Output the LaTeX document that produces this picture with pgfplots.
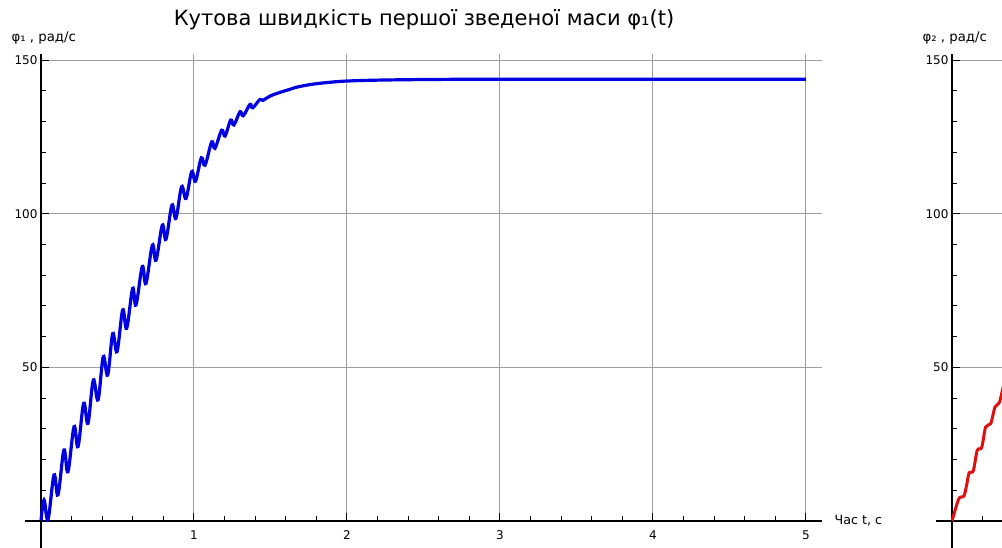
\documentclass[border=0pt]{standalone}
\usepackage{fontspec}
\setmainfont{DejaVu Sans}
\usepackage{pgfplots}
\usepackage{pgfplotstable}
\pgfplotsset{compat=1.18}

\definecolor{sageblue}{RGB}{0,0,225}
\definecolor{sagered}{RGB}{222,16,16}

\pgfplotsset{sagestyle/.style={
  scale only axis, width=781pt, height=467pt,
  xmin=0, xmax=5.105, ymin=0, ymax=152,
  axis lines*=left,
  axis line style={black, line width=1.1pt},
  xtick={1,2,3,4,5}, ytick={50,100,150},
  minor xtick={0.2,0.4,...,5.0}, minor ytick={10,20,...,150},
  tick align=inside,
  major tick length=8pt, minor tick length=5pt,
  every tick/.style={black, line width=1pt},
  grid=major,
  major grid style={black!38, line width=1pt},
  tick label style={font=\fontsize{12}{14}\selectfont},
  /pgf/number format/assume math mode=true,
  xticklabel style={yshift=-6pt},
  clip=false,
}}

\pgfplotstableread{
t w
0.000 0.0
0.020 6.8
0.046 0.5
0.085 15.0
0.111 8.5
0.150 23.1
0.176 16.0
0.216 30.7
0.242 24.2
0.279 38.3
0.307 31.8
0.342 45.9
0.373 39.4
0.407 53.5
0.436 47.5
0.469 61.0
0.497 55.1
0.534 68.7
0.560 62.7
0.599 75.7
0.621 70.3
0.662 82.8
0.686 77.3
0.728 89.8
0.752 84.9
0.793 96.3
0.817 91.7
0.856 102.8
0.882 98.5
0.919 108.8
0.948 105.0
0.985 113.7
1.010 110.6
1.048 118.2
1.072 115.8
1.116 123.4
1.137 121.3
1.181 127.2
1.203 125.3
1.240 130.5
1.261 128.9
1.301 133.2
1.322 131.9
1.366 135.6
1.384 134.5
1.431 137.2
1.450 136.9
1.497 138.3
1.562 139.5
1.627 140.5
1.680 141.3
1.780 142.2
1.890 142.8
2.000 143.2
2.210 143.5
2.540 143.7
3.000 143.8
4.000 143.8
5.000 143.8
}\wone

\pgfplotstableread{
t w
0.000 0.0
0.040 6.7
0.057 7.8
0.078 8.1
0.095 11.5
0.112 15.7
0.139 16.3
0.165 23.0
0.194 23.9
0.220 30.6
0.253 31.7
0.281 37.1
0.310 38.6
0.340 45.0
}\wtwo

\begin{document}
\begin{tikzpicture}
\useasboundingbox (0pt,0pt) rectangle (1002pt,548pt);

\begin{axis}[sagestyle, at={(41pt,27pt)}, anchor=south west]
  \addplot[sageblue, line width=3.2pt, smooth, tension=0.6] table[x=t,y=w] {\wone};
  \draw[black, line width=1.1pt] (axis cs:-0.105,0) -- (axis cs:0,0);
  \draw[black, line width=1.1pt] (axis cs:0,-12) -- (axis cs:0,0);
  \node[anchor=west, font=\fontsize{12.7}{14}\selectfont, xshift=9pt] at (axis cs:5.105,0) {Час t, с};
\end{axis}

\begin{axis}[sagestyle, at={(952pt,27pt)}, anchor=south west, xticklabels={}]
  \addplot[sagered, line width=3pt, smooth, tension=0.5] table[x=t,y=w] {\wtwo};
  \draw[black, line width=1.1pt] (axis cs:-0.105,0) -- (axis cs:0,0);
  \draw[black, line width=1.1pt] (axis cs:0,-12) -- (axis cs:0,0);
\end{axis}

\node[anchor=west, font=\fontsize{13.3}{15}\selectfont] at (8pt,510pt) {φ₁ , рад/с};
\node[anchor=west, font=\fontsize{13.3}{15}\selectfont] at (919pt,510pt) {φ₂ , рад/с};
\node[font=\fontsize{21}{25}\selectfont] at (424pt,528pt) {Кутова швидкість першої зведеної маси φ₁(t)};
\end{tikzpicture}
\end{document}
